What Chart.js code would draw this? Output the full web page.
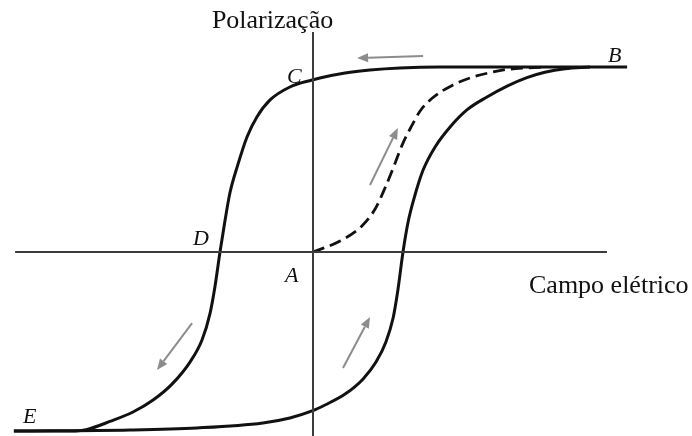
<!DOCTYPE html>
<html>
<head>
<meta charset="utf-8">
<script src="https://cdn.jsdelivr.net/npm/chart.js@4/dist/chart.umd.min.js"></script>
<style>
  html, body { margin: 0; padding: 0; background: #ffffff; }
  #wrap { width: 692px; height: 436px; position: relative; }
</style>
</head>
<body>
<div id="wrap"><canvas id="c"></canvas></div>
<script>
// Hysteresis loop of a ferroelectric: polarization vs. electric field (arbitrary units).

// Descending branch: B -> C -> D -> E
const descField = [10.47, 6.23, 4.23, 2.9, 1.9, 1.07, 0.23, -0.03, -0.77, -1.43, -1.87, -2.2, -2.53, -2.77, -2.93, -3.1, -3.27, -3.43, -3.7, -4.1, -4.7, -5.33, -6.0, -6.77, -7.53, -7.93, -9.97];
const descPol   = [10.0, 10.0, 10.0, 9.95, 9.84, 9.68, 9.41, 9.3, 8.92, 8.22, 7.3, 6.22, 4.59, 3.19, 1.73, 0, -1.89, -3.3, -4.76, -5.95, -7.14, -8.0, -8.65, -9.16, -9.59, -9.68, -9.68];

// Ascending branch: E -> B
const ascField = [-9.97, -6.1, -3.87, -1.67, -0.77, -0.03, 0.4, 1.07, 1.67, 2.1, 2.43, 2.67, 2.83, 3.0, 3.17, 3.4, 3.67, 4.07, 4.57, 5.13, 5.8, 6.47, 7.13, 7.73, 8.4, 9.23];
const ascPol   = [-9.68, -9.62, -9.51, -9.24, -8.97, -8.59, -8.27, -7.68, -6.86, -5.95, -4.86, -3.57, -2.05, 0, 1.62, 3.08, 4.43, 5.68, 6.76, 7.68, 8.38, 8.97, 9.43, 9.72, 9.91, 10.0];

// First polarization from the unpoled state A (dashed)
const initField = [0, 0.9, 1.63, 2.07, 2.4, 2.7, 2.97, 3.27, 3.57, 3.97, 4.67, 5.33, 6.0, 6.47, 7.13, 7.77];
const initPol   = [0, 0.59, 1.41, 2.32, 3.46, 4.65, 5.78, 6.76, 7.62, 8.31, 9.03, 9.46, 9.73, 9.87, 9.95, 10.0];

// Axis extents
const fieldAxis = [-9.93, 9.8];
const polAxis = [-9.95, 11.89];

// Direction arrows: [fromField, fromPol, toField, toPol]
const arrows = [
  [3.67, 10.59, 1.47, 10.49],
  [1.9, 3.62, 2.83, 6.7],
  [-4.03, -3.84, -5.2, -6.38],
  [1.0, -6.27, 1.9, -3.51]
];

const toPts = (xs, ys) => xs.map((x, i) => ({ x: x, y: ys[i] }));

const textItems = [
  { text: 'Polarização',    x: -3.37, y: 12.1,  italic: false, size: 26 },
  { text: 'Campo elétrico', x: 7.2,   y: -2.22, italic: false, size: 26 },
  { text: 'C', x: -0.87, y: 9.14,  italic: true, size: 22 },
  { text: 'B', x: 9.83,  y: 10.27, italic: true, size: 22 },
  { text: 'D', x: -4.0,  y: 0.38,  italic: true, size: 22 },
  { text: 'A', x: -0.93, y: -1.62, italic: true, size: 22 },
  { text: 'E', x: -9.67, y: -9.24, italic: true, size: 22 }
];

const annotate = {
  id: 'annotate',
  afterDatasetsDraw(chart) {
    const { ctx, scales: { x, y } } = chart;
    ctx.save();
    // direction arrows
    ctx.strokeStyle = '#8c8c8c';
    ctx.fillStyle = '#8c8c8c';
    ctx.lineWidth = 2;
    arrows.forEach(a => {
      const x0 = x.getPixelForValue(a[0]), y0 = y.getPixelForValue(a[1]);
      const x1 = x.getPixelForValue(a[2]), y1 = y.getPixelForValue(a[3]);
      const ang = Math.atan2(y1 - y0, x1 - x0);
      const hl = 11, hw = 4.5;
      const bx = x1 - hl * Math.cos(ang), by = y1 - hl * Math.sin(ang);
      ctx.beginPath();
      ctx.moveTo(x0, y0);
      ctx.lineTo(bx, by);
      ctx.stroke();
      ctx.beginPath();
      ctx.moveTo(x1, y1);
      ctx.lineTo(bx + hw * Math.sin(ang), by - hw * Math.cos(ang));
      ctx.lineTo(bx - hw * Math.sin(ang), by + hw * Math.cos(ang));
      ctx.closePath();
      ctx.fill();
    });
    // axis names and point labels
    ctx.fillStyle = '#111111';
    ctx.textAlign = 'left';
    ctx.textBaseline = 'alphabetic';
    textItems.forEach(t => {
      ctx.font = (t.italic ? 'italic ' : '') + t.size + 'px "Liberation Serif", "DejaVu Serif", serif';
      ctx.fillText(t.text, x.getPixelForValue(t.x), y.getPixelForValue(t.y));
    });
    ctx.restore();
  }
};

const curve = { showLine: true, pointRadius: 0, fill: false, cubicInterpolationMode: 'monotone', borderColor: '#111111', borderWidth: 3 };
const axisLine = { showLine: true, pointRadius: 0, fill: false, tension: 0, borderColor: '#3c3c3c', borderWidth: 2 };

new Chart(document.getElementById('c'), {
  type: 'scatter',
  data: {
    datasets: [
      Object.assign({ data: [{ x: fieldAxis[0], y: 0 }, { x: fieldAxis[1], y: 0 }] }, axisLine),
      Object.assign({ data: [{ x: 0, y: polAxis[0] }, { x: 0, y: polAxis[1] }] }, axisLine),
      Object.assign({ data: toPts(descField, descPol) }, curve),
      Object.assign({ data: toPts(ascField, ascPol) }, curve),
      Object.assign({ data: toPts(initField, initPol), borderDash: [12, 6] }, curve, { borderWidth: 2.8 })
    ]
  },
  options: {
    responsive: true,
    maintainAspectRatio: false,
    animation: false,
    layout: { padding: 0 },
    plugins: { legend: { display: false }, tooltip: { enabled: false } },
    scales: {
      x: { type: 'linear', display: false, min: -313 / 30, max: (692 - 313) / 30 },
      y: { type: 'linear', display: false, min: -184 / 18.5, max: 252 / 18.5 }
    }
  },
  plugins: [annotate]
});
</script>
</body>
</html>
